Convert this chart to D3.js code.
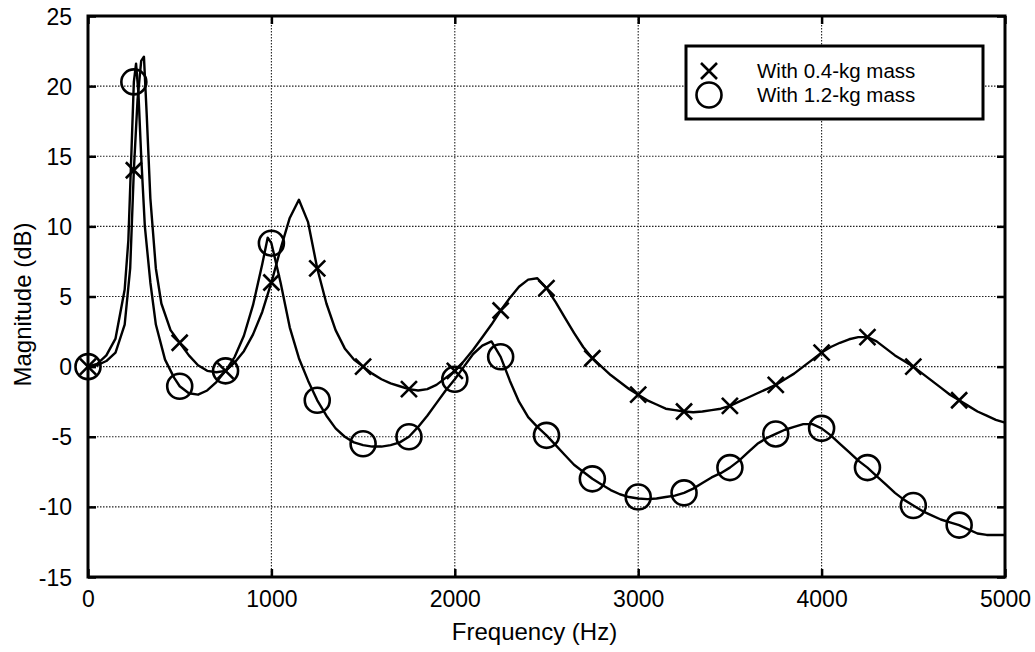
<!DOCTYPE html>
<html><head><meta charset="utf-8">
<script src="https://cdn.jsdelivr.net/npm/d3@7"></script>
<style>
body{margin:0;background:#fff}
text{font-family:"Liberation Sans",Arial,Helvetica,sans-serif;fill:#000}
</style></head>
<body><svg id="c" width="1035" height="652"></svg>
<script>
// ---- data ----
const freqA = [0,50,100,150,200,230,250,270,290,305,320,340,370,400,450,500,550,600,650,700,750,800,850,900,950,
  1000,1050,1100,1150,1200,1250,1300,1350,1400,1450,1500,1550,1600,1650,1700,1750,1800,1850,1900,1950,
  2000,2050,2100,2150,2200,2250,2300,2350,2400,2450,2500,2550,2600,2650,2700,2750,2800,2850,2900,2950,
  3000,3050,3100,3150,3200,3250,3300,3350,3400,3450,3500,3550,3600,3650,3700,3750,3800,3850,3900,3950,
  4000,4050,4100,4150,4200,4250,4300,4350,4400,4450,4500,4550,4600,4650,4700,4750,4800,4850,4900,4950,5000];
const magA = [0,0.1,0.4,1.0,3.0,7,14,19,21.8,22.1,18,12,7,4.5,2.6,1.7,0.8,0.1,-0.3,-0.4,-0.3,0.3,1.1,2.3,3.9,
  6.0,8.4,10.6,11.9,10.3,7.0,4.5,2.6,1.3,0.5,0,-0.5,-0.9,-1.2,-1.4,-1.6,-1.7,-1.6,-1.3,-0.8,
  -0.3,0.4,1.2,2.1,3.0,4.0,4.9,5.7,6.2,6.3,5.6,4.6,3.5,2.4,1.4,0.6,0,-0.6,-1.1,-1.6,
  -2.0,-2.4,-2.7,-3.0,-3.1,-3.2,-3.25,-3.2,-3.1,-3.0,-2.8,-2.5,-2.2,-1.9,-1.6,-1.3,-0.9,-0.5,0,0.5,
  1.0,1.4,1.7,1.95,2.1,2.1,1.8,1.3,0.8,0.4,0,-0.5,-1.0,-1.5,-2.0,-2.4,-2.8,-3.2,-3.5,-3.8,-4.0];

const freqB = [0,50,100,150,200,220,240,250,262,275,290,310,340,370,420,470,500,550,600,650,700,750,800,850,900,950,980,
  1000,1050,1100,1150,1200,1250,1300,1350,1400,1450,1500,1550,1600,1650,1700,1750,1800,1850,1900,1950,
  2000,2050,2100,2150,2200,2250,2300,2350,2400,2450,2500,2550,2600,2650,2700,2750,2800,2850,2900,2950,
  3000,3050,3100,3150,3200,3250,3300,3350,3400,3450,3500,3550,3600,3650,3700,3750,3800,3850,3900,3950,
  4000,4050,4100,4150,4200,4250,4300,4350,4400,4450,4500,4550,4600,4650,4700,4750,4800,4850,4900,4950,5000];
const magB = [0,0.2,0.8,2.0,5.5,9,16.5,20.3,21.6,19.5,15,10,6,3,0.5,-0.8,-1.4,-1.9,-2.0,-1.7,-1.1,-0.3,0.7,2.2,4.4,7.3,9.2,
  8.8,6.0,2.8,0.6,-1.0,-2.4,-3.5,-4.4,-5.0,-5.4,-5.6,-5.7,-5.7,-5.6,-5.4,-5.0,-4.3,-3.5,-2.6,-1.7,
  -0.9,0,0.9,1.5,1.8,0.7,-1.0,-2.5,-3.6,-4.3,-4.9,-5.6,-6.3,-7.0,-7.5,-8.0,-8.4,-8.8,-9.1,-9.3,
  -9.4,-9.45,-9.4,-9.3,-9.2,-9.0,-8.7,-8.3,-7.9,-7.6,-7.2,-6.7,-6.1,-5.5,-5.1,-4.8,-4.5,-4.3,-4.1,-4.1,
  -4.4,-4.9,-5.5,-6.1,-6.7,-7.2,-7.8,-8.4,-9.0,-9.5,-9.9,-10.3,-10.6,-10.9,-11.1,-11.3,-11.6,-11.9,-12.0,-12.0,-12.0];

const markerFreq = [0,250,500,750,1000,1250,1500,1750,2000,2250,2500,2750,3000,3250,3500,3750,4000,4250,4500,4750];
const markerA = [0,14,1.7,-0.3,6,7,0,-1.6,-0.3,4,5.6,0.6,-2,-3.2,-2.8,-1.3,1,2.1,0,-2.4];
const markerB = [0,20.3,-1.4,-0.3,8.8,-2.4,-5.5,-5,-0.9,0.7,-4.9,-8,-9.3,-9,-7.2,-4.8,-4.4,-7.2,-9.9,-11.3];

const xTicks = [0,1000,2000,3000,4000,5000];
const yTicks = [-15,-10,-5,0,5,10,15,20,25];
const legendLabels = ["With 0.4-kg mass","With 1.2-kg mass"];
const xTitle = "Frequency (Hz)";
const yTitle = "Magnitude (dB)";

// ---- drawing ----
const L=88,R=1005,T=16,B=577;
const svg=d3.select("#c");
const x=d3.scaleLinear().domain([0,5000]).range([L,R]);
const y=d3.scaleLinear().domain([-15,25]).range([B,T]);
const plain=d=>String(d);

// grid
const grid=svg.append("g").attr("stroke","#222").attr("stroke-width",1.1).attr("stroke-dasharray","1.5,1.5");
grid.selectAll("line.gx").data(xTicks.filter(d=>d>0&&d<5000)).join("line")
  .attr("x1",d=>x(d)).attr("x2",d=>x(d)).attr("y1",T).attr("y2",B);
grid.selectAll("line.gy").data(yTicks.filter(d=>d>-15&&d<25)).join("line")
  .attr("y1",d=>y(d)).attr("y2",d=>y(d)).attr("x1",L).attr("x2",R);

// axes with labels and inward ticks
const fs=23;
const ax=svg.append("g").attr("transform",`translate(0,${B})`)
  .call(d3.axisBottom(x).tickValues(xTicks).tickFormat(plain).tickSizeInner(-8).tickSizeOuter(0).tickPadding(14));
const ay=svg.append("g").attr("transform",`translate(${L},0)`)
  .call(d3.axisLeft(y).tickValues(yTicks).tickFormat(plain).tickSizeInner(-8).tickSizeOuter(0).tickPadding(16));
const axt=svg.append("g").attr("transform",`translate(0,${T})`)
  .call(d3.axisTop(x).tickValues(xTicks).tickSizeInner(-8).tickSizeOuter(0).tickFormat(""));
const ayr=svg.append("g").attr("transform",`translate(${R},0)`)
  .call(d3.axisRight(y).tickValues(yTicks).tickSizeInner(-8).tickSizeOuter(0).tickFormat(""));
[ax,ay,axt,ayr].forEach(g=>{
  g.select(".domain").remove();
  g.selectAll(".tick line").attr("stroke","#000").attr("stroke-width",2.5);
  g.selectAll("text").attr("font-size",fs).attr("font-family","'Liberation Sans',Arial,sans-serif").attr("fill","#000");
});
ay.selectAll("text").attr("dy","0.35em");

// frame
svg.append("rect").attr("x",L).attr("y",T).attr("width",R-L).attr("height",B-T)
  .attr("fill","none").attr("stroke","#000").attr("stroke-width",3);

// lines
const line=d3.line().x(d=>x(d[0])).y(d=>y(d[1]));
const lineG=svg.append("g").attr("fill","none").attr("stroke","#000").attr("stroke-width",2.4).attr("stroke-linejoin","round");
lineG.append("path").attr("d",line(freqA.map((f,i)=>[f,magA[i]])));
lineG.append("path").attr("d",line(freqB.map((f,i)=>[f,magB[i]])));

// markers
const xs=8;
const crossPath=`M${-xs},${-xs}L${xs},${xs}M${-xs},${xs}L${xs},${-xs}`;
svg.append("g").selectAll("path").data(markerFreq.map((f,i)=>[f,markerA[i]])).join("path")
  .attr("transform",d=>`translate(${x(d[0])},${y(d[1])})`).attr("d",crossPath)
  .attr("stroke","#000").attr("stroke-width",2.6).attr("fill","none");
svg.append("g").selectAll("circle").data(markerFreq.map((f,i)=>[f,markerB[i]])).join("circle")
  .attr("cx",d=>x(d[0])).attr("cy",d=>y(d[1])).attr("r",12.5)
  .attr("stroke","#000").attr("stroke-width",2.6).attr("fill","none");

// axis titles
svg.append("text").attr("x",(L+R)/2-12).attr("y",640).attr("text-anchor","middle")
  .attr("font-size",24).text(xTitle);
svg.append("text").attr("transform",`translate(31,${(T+B)/2+8}) rotate(-90)`).attr("text-anchor","middle")
  .attr("font-size",24).text(yTitle);

// legend
const lg=svg.append("g");
lg.append("rect").attr("x",686).attr("y",46).attr("width",983-686).attr("height",119-46)
  .attr("fill","#fff").attr("stroke","#000").attr("stroke-width",3);
const ly=[71,95];
lg.append("path").attr("transform",`translate(709,${ly[0]})`).attr("d",crossPath)
  .attr("stroke","#000").attr("stroke-width",2.6);
lg.append("circle").attr("cx",709).attr("cy",ly[1]).attr("r",12.5)
  .attr("stroke","#000").attr("stroke-width",2.6).attr("fill","none");
lg.selectAll("text").data(legendLabels).join("text")
  .attr("x",757).attr("y",(d,i)=>ly[i]).attr("dy","0.35em").attr("font-size",20.5).text(d=>d);
</script></body></html>
